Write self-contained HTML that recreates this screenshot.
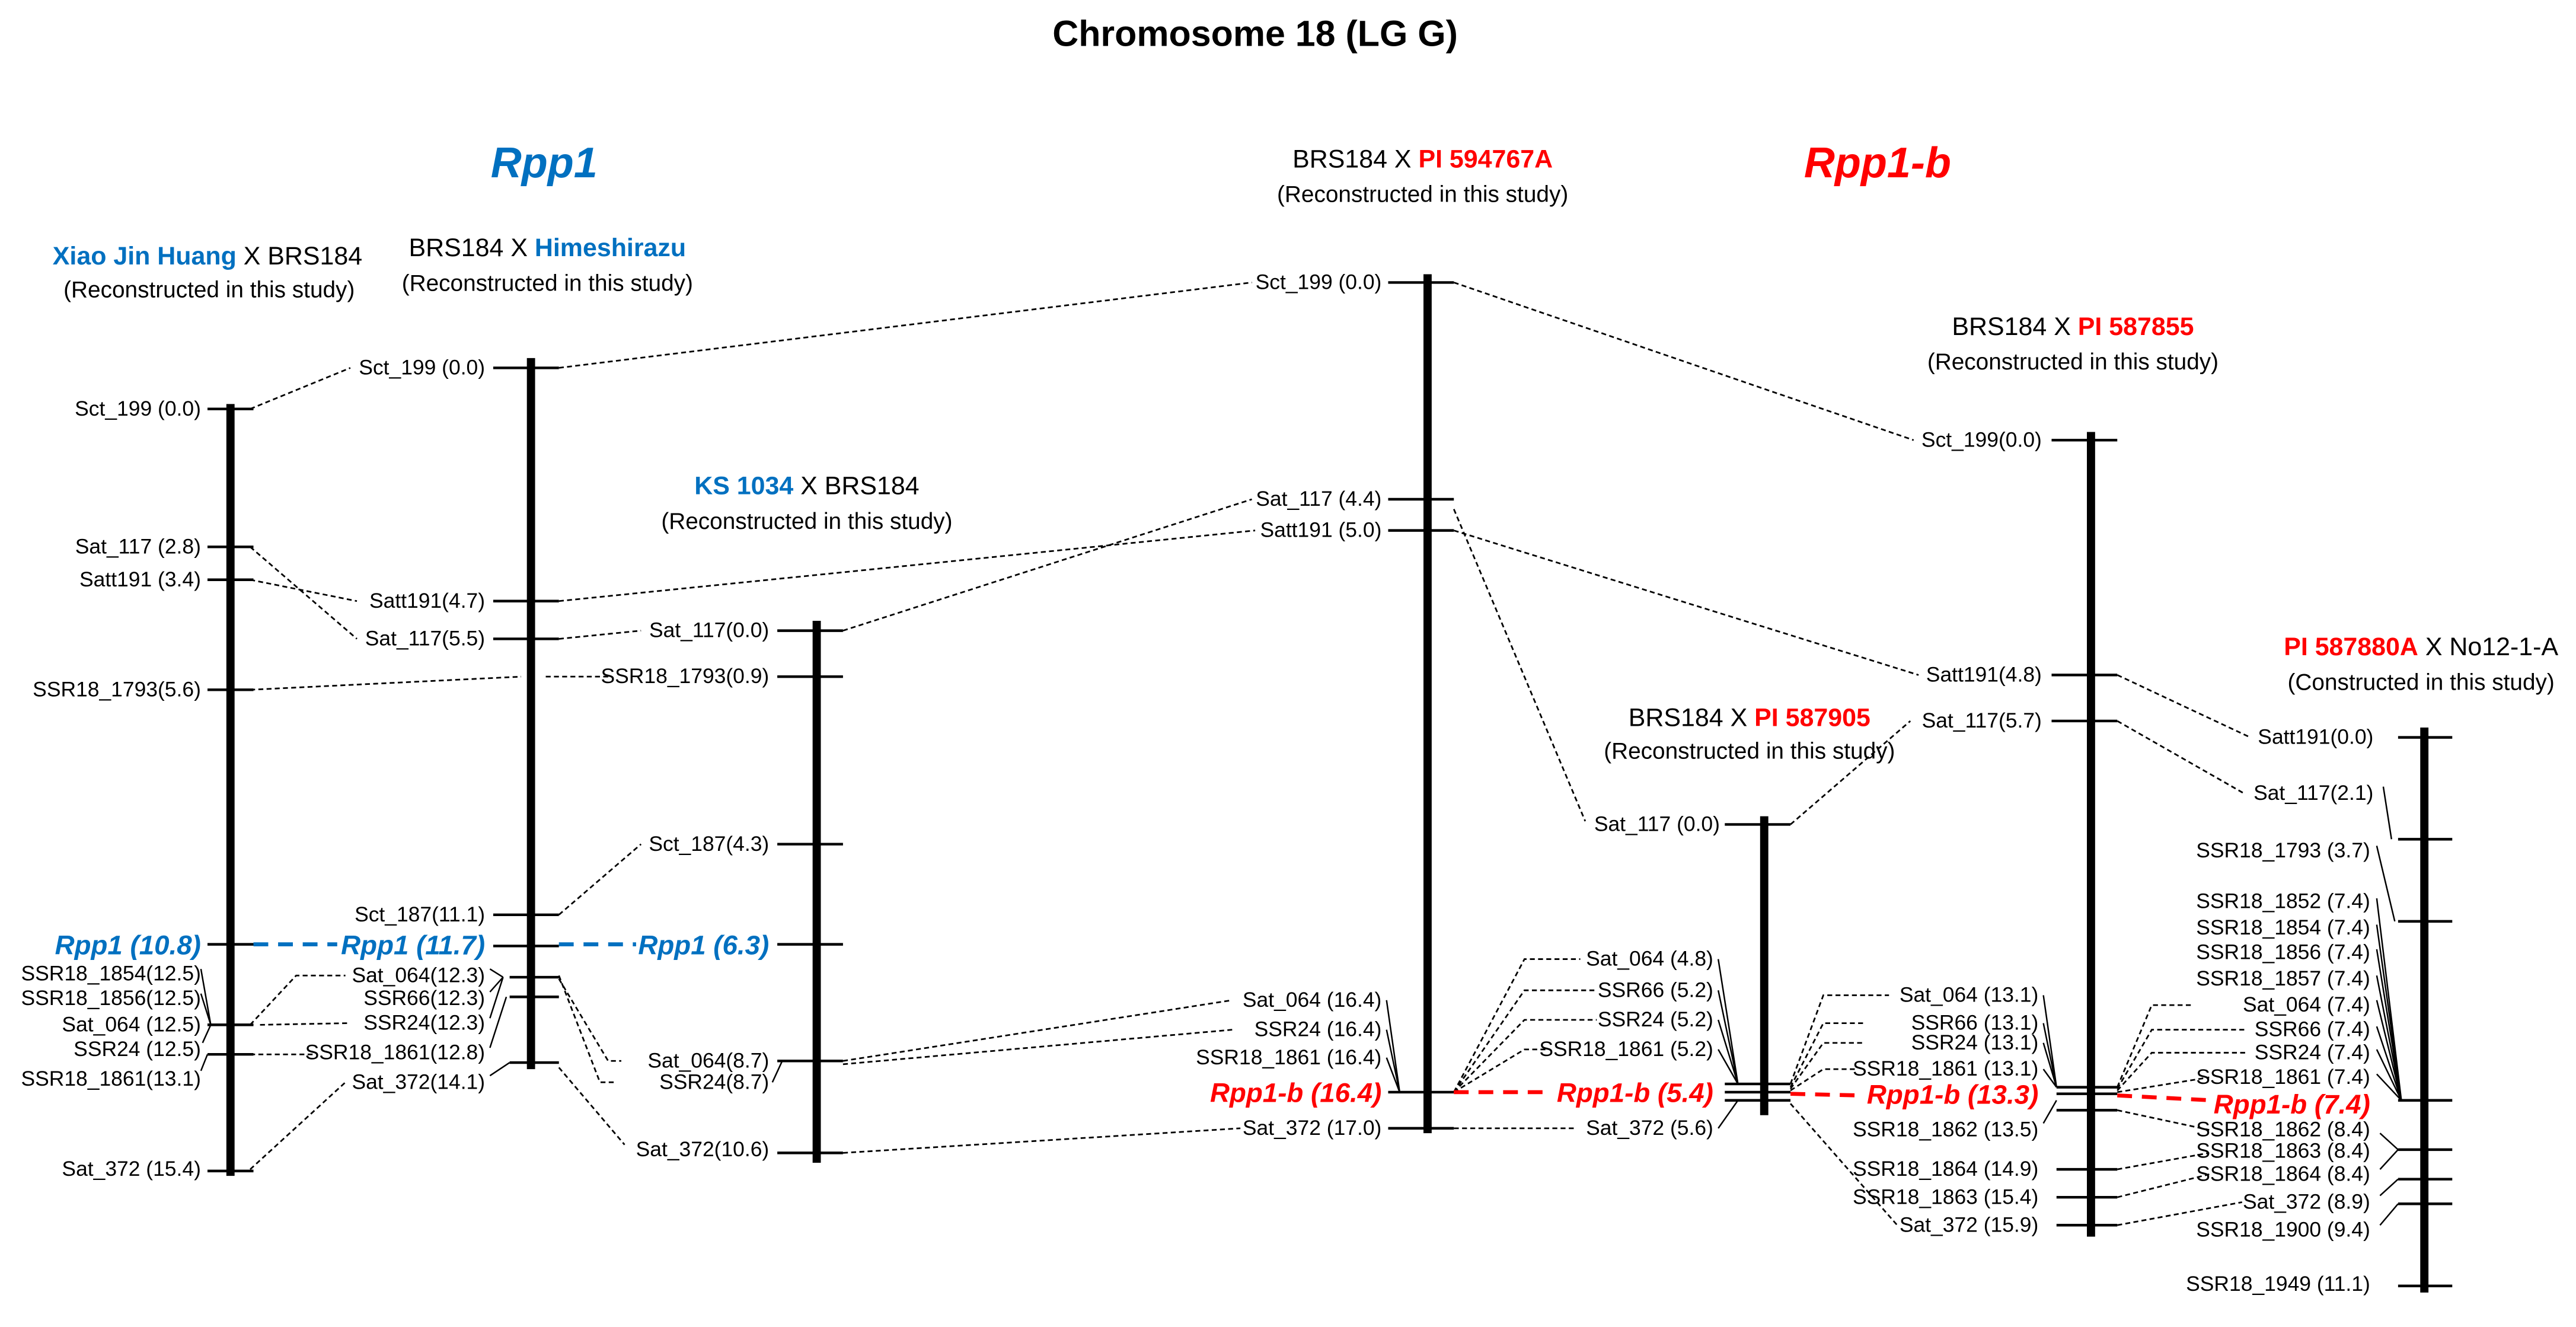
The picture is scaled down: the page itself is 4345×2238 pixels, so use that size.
<!DOCTYPE html>
<html><head><meta charset="utf-8"><style>
html,body{margin:0;padding:0;background:#fff;}
svg{display:block}
text{font-family:"Liberation Sans",sans-serif;font-size:12.8px;fill:#000}
.h{font-size:15.5px}
.s{font-size:14px}
.b{fill:#0070c0;font-weight:bold}
.r{fill:#ff0000;font-weight:bold}
.bi{fill:#0070c0;font-weight:bold;font-style:italic;font-size:16.5px}
.ri{fill:#ff0000;font-weight:bold;font-style:italic;font-size:16.5px}
.d{stroke:#000;stroke-width:1;stroke-dasharray:3 2;fill:none}
.t{stroke:#000;stroke-width:0.9;fill:none}
.k{stroke:#000;stroke-width:1.6}
.c{stroke:#000;stroke-width:5}
</style></head><body>
<svg width="4345" height="2238" viewBox="0 0 1568 808" xmlns="http://www.w3.org/2000/svg">
<rect width="1568" height="808" fill="#fff"/>
<text x="764" y="28" text-anchor="middle" style="font-size:22px;font-weight:bold">Chromosome 18 (LG G)</text>
<text x="331" y="108" text-anchor="middle" style="font-size:26px;font-weight:bold;font-style:italic;fill:#0070c0">Rpp1</text>
<text x="1143" y="108" text-anchor="middle" style="font-size:26px;font-weight:bold;font-style:italic;fill:#ff0000">Rpp1-b</text>

<text x="126" y="161" text-anchor="middle" class="h"><tspan class="b">Xiao Jin Huang</tspan> X BRS184</text>
<text x="127" y="181" text-anchor="middle" class="s">(Reconstructed in this study)</text>
<text x="333" y="156" text-anchor="middle" class="h">BRS184 X <tspan class="b">Himeshirazu</tspan></text>
<text x="333" y="177" text-anchor="middle" class="s">(Reconstructed in this study)</text>
<text x="491" y="301" text-anchor="middle" class="h"><tspan class="b">KS 1034</tspan> X BRS184</text>
<text x="491" y="322" text-anchor="middle" class="s">(Reconstructed in this study)</text>
<text x="866" y="102" text-anchor="middle" class="h">BRS184 X <tspan class="r">PI 594767A</tspan></text>
<text x="866" y="123" text-anchor="middle" class="s">(Reconstructed in this study)</text>
<text x="1262" y="204" text-anchor="middle" class="h">BRS184 X <tspan class="r">PI 587855</tspan></text>
<text x="1262" y="225" text-anchor="middle" class="s">(Reconstructed in this study)</text>
<text x="1065" y="442" text-anchor="middle" class="h">BRS184 X <tspan class="r">PI 587905</tspan></text>
<text x="1065" y="462" text-anchor="middle" class="s">(Reconstructed in this study)</text>
<text x="1474" y="399" text-anchor="middle" class="h"><tspan class="r">PI 587880A</tspan> X No12-1-A</text>
<text x="1474" y="420" text-anchor="middle" class="s">(Constructed in this study)</text>

<!-- chromosomes -->
<line class="c" x1="140" y1="246" x2="140" y2="716"/>
<line class="c" x1="323" y1="218" x2="323" y2="651"/>
<line class="c" x1="497" y1="378" x2="497" y2="708"/>
<line class="c" x1="869" y1="167" x2="869" y2="690"/>
<line class="c" x1="1074" y1="497" x2="1074" y2="679"/>
<line class="c" x1="1273" y1="263" x2="1273" y2="753"/>
<line class="c" x1="1476" y1="443" x2="1476" y2="787"/>

<!-- ticks -->
<g class="k">
<line x1="126" y1="249" x2="154" y2="249"/><line x1="126" y1="333" x2="154" y2="333"/><line x1="126" y1="353" x2="154" y2="353"/><line x1="126" y1="420" x2="154" y2="420"/><line x1="126" y1="575" x2="154" y2="575"/><line x1="126" y1="624" x2="154" y2="624"/><line x1="126" y1="642" x2="154" y2="642"/><line x1="126" y1="713" x2="154" y2="713"/>
<line x1="300" y1="224" x2="340" y2="224"/><line x1="300" y1="366" x2="340" y2="366"/><line x1="300" y1="389" x2="340" y2="389"/><line x1="300" y1="557" x2="340" y2="557"/><line x1="300" y1="576" x2="340" y2="576"/><line x1="310" y1="595" x2="340" y2="595"/><line x1="310" y1="607" x2="340" y2="607"/><line x1="310" y1="647" x2="340" y2="647"/>
<line x1="473" y1="384" x2="513" y2="384"/><line x1="473" y1="412" x2="513" y2="412"/><line x1="473" y1="514" x2="513" y2="514"/><line x1="473" y1="575" x2="513" y2="575"/><line x1="473" y1="646" x2="513" y2="646"/><line x1="473" y1="702" x2="513" y2="702"/>
<line x1="845" y1="172" x2="885" y2="172"/><line x1="845" y1="304" x2="885" y2="304"/><line x1="845" y1="323" x2="885" y2="323"/><line x1="845" y1="665" x2="885" y2="665"/><line x1="845" y1="687" x2="885" y2="687"/>
<line x1="1050" y1="502" x2="1090" y2="502"/><line x1="1050" y1="660" x2="1090" y2="660"/><line x1="1050" y1="665" x2="1090" y2="665"/><line x1="1050" y1="670" x2="1090" y2="670"/>
<line x1="1249" y1="268" x2="1289" y2="268"/><line x1="1249" y1="411" x2="1289" y2="411"/><line x1="1249" y1="439" x2="1289" y2="439"/><line x1="1252" y1="662" x2="1289" y2="662"/><line x1="1252" y1="666" x2="1289" y2="666"/><line x1="1252" y1="676" x2="1289" y2="676"/><line x1="1252" y1="712" x2="1289" y2="712"/><line x1="1252" y1="729" x2="1289" y2="729"/><line x1="1252" y1="746" x2="1289" y2="746"/>
<line x1="1460" y1="449" x2="1493" y2="449"/><line x1="1460" y1="511" x2="1493" y2="511"/><line x1="1460" y1="561" x2="1493" y2="561"/><line x1="1460" y1="670" x2="1493" y2="670"/><line x1="1460" y1="700" x2="1493" y2="700"/><line x1="1460" y1="718" x2="1493" y2="718"/><line x1="1460" y1="733" x2="1493" y2="733"/><line x1="1460" y1="783" x2="1493" y2="783"/>
</g>

<g text-anchor="end">
<text x="122" y="253">Sct_199 (0.0)</text>
<text x="122" y="337">Sat_117 (2.8)</text>
<text x="122" y="357">Satt191 (3.4)</text>
<text x="122" y="424">SSR18_1793(5.6)</text>
<text x="122" y="581" class="bi">Rpp1 (10.8)</text>
<text x="122" y="597">SSR18_1854(12.5)</text>
<text x="122" y="612">SSR18_1856(12.5)</text>
<text x="122" y="628">Sat_064 (12.5)</text>
<text x="122" y="643">SSR24 (12.5)</text>
<text x="122" y="661">SSR18_1861(13.1)</text>
<text x="122" y="716">Sat_372 (15.4)</text>
<text x="295" y="228">Sct_199 (0.0)</text>
<text x="295" y="370">Satt191(4.7)</text>
<text x="295" y="393">Sat_117(5.5)</text>
<text x="295" y="561">Sct_187(11.1)</text>
<text x="295" y="581" class="bi">Rpp1 (11.7)</text>
<text x="295" y="598">Sat_064(12.3)</text>
<text x="295" y="612">SSR66(12.3)</text>
<text x="295" y="627">SSR24(12.3)</text>
<text x="295" y="645">SSR18_1861(12.8)</text>
<text x="295" y="663">Sat_372(14.1)</text>
<text x="468" y="388">Sat_117(0.0)</text>
<text x="468" y="416">SSR18_1793(0.9)</text>
<text x="468" y="518">Sct_187(4.3)</text>
<text x="468" y="581" class="bi">Rpp1 (6.3)</text>
<text x="468" y="650">Sat_064(8.7)</text>
<text x="468" y="663">SSR24(8.7)</text>
<text x="468" y="704">Sat_372(10.6)</text>
<text x="841" y="176">Sct_199 (0.0)</text>
<text x="841" y="308">Sat_117 (4.4)</text>
<text x="841" y="327">Satt191 (5.0)</text>
<text x="841" y="613">Sat_064 (16.4)</text>
<text x="841" y="631">SSR24 (16.4)</text>
<text x="841" y="648">SSR18_1861 (16.4)</text>
<text x="841" y="671" class="ri">Rpp1-b (16.4)</text>
<text x="841" y="691">Sat_372 (17.0)</text>
<text x="1047" y="506">Sat_117 (0.0)</text>
<text x="1043" y="588">Sat_064 (4.8)</text>
<text x="1043" y="607">SSR66 (5.2)</text>
<text x="1043" y="625">SSR24 (5.2)</text>
<text x="1043" y="643">SSR18_1861 (5.2)</text>
<text x="1043" y="671" class="ri">Rpp1-b (5.4)</text>
<text x="1043" y="691">Sat_372 (5.6)</text>
<text x="1243" y="272">Sct_199(0.0)</text>
<text x="1243" y="415">Satt191(4.8)</text>
<text x="1243" y="443">Sat_117(5.7)</text>
<text x="1241" y="610">Sat_064 (13.1)</text>
<text x="1241" y="627">SSR66 (13.1)</text>
<text x="1241" y="639">SSR24 (13.1)</text>
<text x="1241" y="655">SSR18_1861 (13.1)</text>
<text x="1241" y="672" class="ri">Rpp1-b (13.3)</text>
<text x="1241" y="692">SSR18_1862 (13.5)</text>
<text x="1241" y="716">SSR18_1864 (14.9)</text>
<text x="1241" y="733">SSR18_1863 (15.4)</text>
<text x="1241" y="750">Sat_372 (15.9)</text>
<text x="1445" y="453">Satt191(0.0)</text>
<text x="1445" y="487">Sat_117(2.1)</text>
<text x="1443" y="522">SSR18_1793 (3.7)</text>
<text x="1443" y="553">SSR18_1852 (7.4)</text>
<text x="1443" y="569">SSR18_1854 (7.4)</text>
<text x="1443" y="584">SSR18_1856 (7.4)</text>
<text x="1443" y="600">SSR18_1857 (7.4)</text>
<text x="1443" y="616">Sat_064 (7.4)</text>
<text x="1443" y="631">SSR66 (7.4)</text>
<text x="1443" y="645">SSR24 (7.4)</text>
<text x="1443" y="660">SSR18_1861 (7.4)</text>
<text x="1443" y="678" class="ri">Rpp1-b (7.4)</text>
<text x="1443" y="692">SSR18_1862 (8.4)</text>
<text x="1443" y="705">SSR18_1863 (8.4)</text>
<text x="1443" y="719">SSR18_1864 (8.4)</text>
<text x="1443" y="736">Sat_372 (8.9)</text>
<text x="1443" y="753">SSR18_1900 (9.4)</text>
<text x="1443" y="786">SSR18_1949 (11.1)</text>
</g>

<g class="t">
<path d="M122,590 L128,624 M122,605 L128,624 M123,635 L128,624 M122,652 L126,642"/>
<path d="M298,590 L306,595 M298,604 L306,595 M298,620 L306,595 M298,638 L308,607 M298,655 L310,647"/>
<path d="M470,659 L476,646"/>
<path d="M844,609 L852,665 M844,627 L852,665 M844,644 L852,665"/>
<path d="M1046,584 L1058,660 M1046,603 L1058,660 M1046,621 L1058,660 M1046,639 L1058,660 M1046,687 L1058,670"/>
<path d="M1244,606 L1252,662 M1244,623 L1252,662 M1244,635 L1252,662 M1244,651 L1252,662 M1244,684 L1252,670"/>
<path d="M1451,479 L1456,511 M1447,515 L1458,561 M1447,547 L1462,670 M1447,563 L1462,670 M1447,578 L1462,670 M1447,594 L1462,670 M1447,609 L1462,670 M1447,625 L1462,670 M1447,639 L1462,670 M1447,654 L1462,670 M1449,690 L1460,700 M1449,712 L1460,700 M1449,728 L1460,718 M1449,746 L1460,733"/>
</g>

<g class="d">
<path d="M152,249 L213,224"/>
<path d="M340,224 L762,172"/>
<path d="M885,172 L1165,268"/>
<path d="M152,333 L217,389"/>
<path d="M152,353 L217,366"/>
<path d="M340,366 L764,323"/>
<path d="M340,389 L390,384"/>
<path d="M513,384 L762,304"/>
<path d="M885,310 L965,500"/>
<path d="M885,323 L1168,411"/>
<path d="M1090,502 L1163,439"/>
<path d="M1289,411 L1370,449"/>
<path d="M1289,439 L1366,483"/>
<path d="M152,420 L317,412"/>
<path d="M332,412 L370,412"/>
<path d="M340,557 L390,514"/>
<path d="M152,624 L180,594 L210,594"/>
<path d="M158,624 L212,623"/>
<path d="M152,642 L190,642"/>
<path d="M152,712 L210,659"/>
<path d="M340,594 L365,659 L375,659"/>
<path d="M340,596 L370,646 L378,646"/>
<path d="M340,650 L380,697"/>
<path d="M513,646 L750,609"/>
<path d="M513,648 L750,627"/>
<path d="M513,702 L755,687"/>
<path d="M885,665 L928,584 L962,584"/>
<path d="M885,665 L928,603 L972,603"/>
<path d="M885,665 L928,621 L972,621"/>
<path d="M885,665 L928,639 L942,639"/>
<path d="M885,687 L960,687"/>
<path d="M1090,660 L1110,606 L1150,606"/>
<path d="M1090,662 L1110,623 L1135,623"/>
<path d="M1090,663 L1110,635 L1135,635"/>
<path d="M1090,664 L1110,651 L1130,651"/>
<path d="M1090,672 L1155,746"/>
<path d="M1289,662 L1310,612 L1335,612"/>
<path d="M1289,663 L1310,627 L1367,627"/>
<path d="M1289,664 L1310,641 L1367,641"/>
<path d="M1289,665 L1345,656"/>
<path d="M1289,676 L1345,688"/>
<path d="M1289,712 L1345,702"/>
<path d="M1289,729 L1345,715"/>
<path d="M1289,746 L1365,732"/>
</g>
<g style="stroke-width:2.4;stroke-dasharray:9 6;fill:none">
<path d="M154,575 L205,575" stroke="#0070c0"/>
<path d="M340,575 L387,575" stroke="#0070c0"/>
<path d="M885,665 L940,665" stroke="#ff0000"/>
<path d="M1090,666 L1132,667" stroke="#ff0000"/>
<path d="M1289,667 L1347,670" stroke="#ff0000"/>
</g>
</svg>
</body></html>
